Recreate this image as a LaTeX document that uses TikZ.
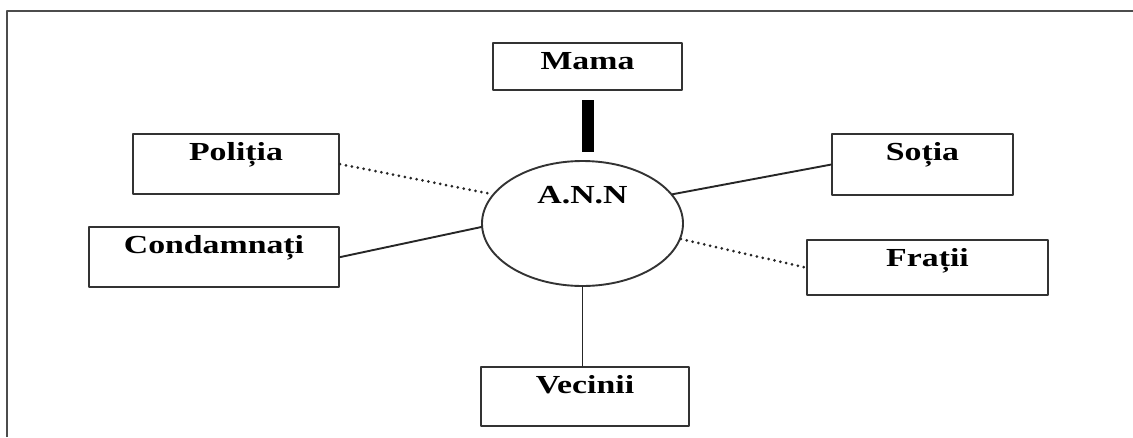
\documentclass[tikz,border=0pt]{standalone}
\usepackage{fontspec}
\setmainfont[FakeStretch=1.3]{Liberation Serif}
\usetikzlibrary{shapes.geometric}
\begin{document}
\begin{tikzpicture}[x=1pt, y=-1pt, font=\fontsize{26}{30}\selectfont\bfseries, line join=round, line cap=round,
	box/.style={draw=black!80, line width=2.2pt, rectangle, anchor=north, inner sep=0pt, text height=26pt},
	link/.style={line width=1.9pt, draw=black!85},
	dotlink/.style={line width=3pt, draw=black!85, dash pattern=on 0pt off 6pt}]
	\useasboundingbox (0,0) rectangle (1133,437);
	\draw[line width=2.4pt, black!70, line cap=butt] (7,437)--(7,11)--(1133,11);
	\foreach \n/\t/\x/\y/\w/\d in {mama/Mama/587.5/42/189/21, politia/Poliția/236/133/206/34,
		condamnati/Condamnați/214/226/250/34, sotia/Soția/922.5/133/181/35,
		fratii/Frații/927.5/239/241/29, vecinii/Vecinii/585/366/208/33}
	\node[box, minimum width=\w pt, text depth=\d pt] (\n) at (\x,\y) {\t};
	\node[draw=black!80, line width=1.9pt, ellipse, inner sep=0pt, minimum width=201pt, minimum height=125pt,
		text height=20pt, text depth=60pt] (ann) at (582.5,223.5) {A.N.N};
	\draw[line width=12pt, line cap=butt, shorten <=9pt, shorten >=8pt] (mama.south) -- (mama.south |- ann.north);
	\draw[dotlink] (politia.east) -- (ann.162);
	\draw[link] (condamnati.east) -- (ann.182);
	\draw[link] (ann.18) -- (sotia.west);
	\draw[dotlink] (ann.351) -- (fratii.west);
	\draw[link] (ann.south) -- (ann.south |- vecinii.north);
\end{tikzpicture}
\end{document}
